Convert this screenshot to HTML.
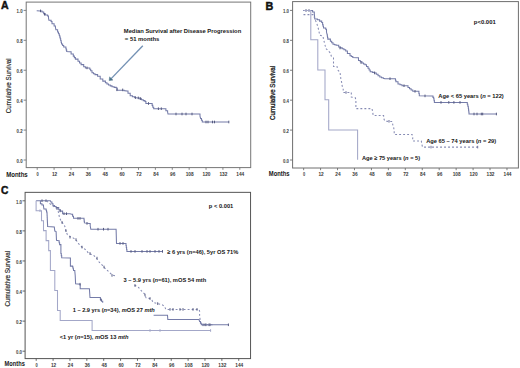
<!DOCTYPE html>
<html><head><meta charset="utf-8"><style>
html,body{margin:0;padding:0;background:#fff;width:520px;height:368px;overflow:hidden;font-family:"Liberation Sans", sans-serif;}
svg.fig{position:absolute;left:0;top:0;filter:blur(0.35px);}
svg.txt{position:absolute;left:0;top:0;font-family:"Liberation Sans", sans-serif;}
</style></head><body>
<svg width="520" height="368" viewBox="0 0 520 368" class="fig">
<rect width="520" height="368" fill="#fff"/>
<rect x="26.20" y="2.10" width="224.50" height="165.50" fill="none" stroke="#767676" stroke-width="1.0"/>
<line x1="23.60" y1="160.00" x2="26.20" y2="160.00" stroke="#767676" stroke-width="0.9"/>
<line x1="23.60" y1="130.08" x2="26.20" y2="130.08" stroke="#767676" stroke-width="0.9"/>
<line x1="23.60" y1="100.16" x2="26.20" y2="100.16" stroke="#767676" stroke-width="0.9"/>
<line x1="23.60" y1="70.24" x2="26.20" y2="70.24" stroke="#767676" stroke-width="0.9"/>
<line x1="23.60" y1="40.32" x2="26.20" y2="40.32" stroke="#767676" stroke-width="0.9"/>
<line x1="23.60" y1="10.40" x2="26.20" y2="10.40" stroke="#767676" stroke-width="0.9"/>
<line x1="37.20" y1="167.60" x2="37.20" y2="169.80" stroke="#767676" stroke-width="0.9"/>
<line x1="54.08" y1="167.60" x2="54.08" y2="169.80" stroke="#767676" stroke-width="0.9"/>
<line x1="70.97" y1="167.60" x2="70.97" y2="169.80" stroke="#767676" stroke-width="0.9"/>
<line x1="87.85" y1="167.60" x2="87.85" y2="169.80" stroke="#767676" stroke-width="0.9"/>
<line x1="104.74" y1="167.60" x2="104.74" y2="169.80" stroke="#767676" stroke-width="0.9"/>
<line x1="121.62" y1="167.60" x2="121.62" y2="169.80" stroke="#767676" stroke-width="0.9"/>
<line x1="138.50" y1="167.60" x2="138.50" y2="169.80" stroke="#767676" stroke-width="0.9"/>
<line x1="155.39" y1="167.60" x2="155.39" y2="169.80" stroke="#767676" stroke-width="0.9"/>
<line x1="172.27" y1="167.60" x2="172.27" y2="169.80" stroke="#767676" stroke-width="0.9"/>
<line x1="189.16" y1="167.60" x2="189.16" y2="169.80" stroke="#767676" stroke-width="0.9"/>
<line x1="206.04" y1="167.60" x2="206.04" y2="169.80" stroke="#767676" stroke-width="0.9"/>
<line x1="222.92" y1="167.60" x2="222.92" y2="169.80" stroke="#767676" stroke-width="0.9"/>
<line x1="239.81" y1="167.60" x2="239.81" y2="169.80" stroke="#767676" stroke-width="0.9"/>
<path d="M36.70 10.65 L40.20 10.90 H42.00 V12.00 H43.70 V13.70 H45.40 V15.00 H47.60 V15.90 H48.50 V18.00 L48.90 20.20 H51.10 V21.50 H52.00 V23.70 H54.10 V25.90 H55.40 V27.20 L55.90 29.80 H57.60 V32.00 H58.45 V33.75 H59.30 V35.50 H59.77 V37.13 H60.23 V38.77 H60.70 V40.40 H61.10 V42.15 H61.50 V43.90 H62.60 V45.45 H63.70 V47.00 H65.90 V48.70 H66.30 V50.10 H66.70 V51.50 L69.30 51.70 H71.10 V53.90 H73.30 V56.10 H74.35 V57.60 H75.40 V59.10 H78.00 V61.20 H79.55 V62.90 H81.10 V64.60 H83.70 V66.70 H85.40 V67.90 L88.90 67.90 H89.80 V69.30 H90.70 V70.70 H92.00 V72.80 H93.50 V73.70 H95.00 V74.60 H97.60 V76.30 H100.20 V78.90 H102.80 V81.10 H105.40 V82.80 H106.95 V83.90 H108.50 V85.00 H110.25 V85.85 H112.00 V86.70 H114.15 V87.35 H116.30 V88.00 H117.20 V90.30 L122.40 90.30 H124.15 V90.65 H125.90 V91.00 H128.00 V93.20 H130.20 V95.80 H132.40 V96.70 H134.60 V97.60 L138.00 98.00 H139.75 V98.85 H141.50 V99.70 H143.25 V100.60 H145.00 V101.50 H145.90 V103.50 L151.50 103.50 H152.15 V105.35 H152.80 V107.20 H153.70 V108.70 L164.10 108.70 H165.90 V110.70 H167.60 V112.00 L168.00 114.00 L198.80 114.00 H200.00 V116.10 L200.60 118.50 H201.45 V120.20 H202.30 V121.90 L228.80 122.00" fill="none" stroke="#747ba8" stroke-width="1.05"/>
<path d="M40.50 9.60 V12.20 M44.50 12.90 V15.50 M87.00 66.60 V69.20 M116.90 88.50 V91.10 M122.70 88.60 V91.20 M135.40 96.30 V98.90 M138.30 96.60 V99.20 M140.60 97.30 V99.90 M148.50 102.20 V104.80 M158.40 107.40 V110.00 M161.30 107.40 V110.00 M176.00 112.70 V115.30 M182.00 112.70 V115.30 M186.00 112.70 V115.30 M192.00 112.70 V115.30 M206.00 120.70 V123.30 M208.00 120.70 V123.30 M212.50 120.70 V123.30 M214.50 120.70 V123.30 M228.80 120.70 V123.30" stroke="#555a80" stroke-width="1.00" fill="none"/>
<line x1="142.8" y1="45.8" x2="111.2" y2="78.6" stroke="#7391b4" stroke-width="1.35"/>
<path d="M109.2 80.6 L109.6 76.9 L112.9 80.1 Z" fill="#4a7288" stroke="#4a7288" stroke-width="0.5"/>
<rect x="292.60" y="1.60" width="225.80" height="166.40" fill="none" stroke="#6e6e6e" stroke-width="1.0"/>
<line x1="290.00" y1="160.00" x2="292.60" y2="160.00" stroke="#6e6e6e" stroke-width="0.9"/>
<line x1="290.00" y1="130.08" x2="292.60" y2="130.08" stroke="#6e6e6e" stroke-width="0.9"/>
<line x1="290.00" y1="100.16" x2="292.60" y2="100.16" stroke="#6e6e6e" stroke-width="0.9"/>
<line x1="290.00" y1="70.24" x2="292.60" y2="70.24" stroke="#6e6e6e" stroke-width="0.9"/>
<line x1="290.00" y1="40.32" x2="292.60" y2="40.32" stroke="#6e6e6e" stroke-width="0.9"/>
<line x1="290.00" y1="10.40" x2="292.60" y2="10.40" stroke="#6e6e6e" stroke-width="0.9"/>
<line x1="303.65" y1="168.00" x2="303.65" y2="170.20" stroke="#6e6e6e" stroke-width="0.9"/>
<line x1="320.59" y1="168.00" x2="320.59" y2="170.20" stroke="#6e6e6e" stroke-width="0.9"/>
<line x1="337.54" y1="168.00" x2="337.54" y2="170.20" stroke="#6e6e6e" stroke-width="0.9"/>
<line x1="354.48" y1="168.00" x2="354.48" y2="170.20" stroke="#6e6e6e" stroke-width="0.9"/>
<line x1="371.43" y1="168.00" x2="371.43" y2="170.20" stroke="#6e6e6e" stroke-width="0.9"/>
<line x1="388.37" y1="168.00" x2="388.37" y2="170.20" stroke="#6e6e6e" stroke-width="0.9"/>
<line x1="405.31" y1="168.00" x2="405.31" y2="170.20" stroke="#6e6e6e" stroke-width="0.9"/>
<line x1="422.26" y1="168.00" x2="422.26" y2="170.20" stroke="#6e6e6e" stroke-width="0.9"/>
<line x1="439.20" y1="168.00" x2="439.20" y2="170.20" stroke="#6e6e6e" stroke-width="0.9"/>
<line x1="456.15" y1="168.00" x2="456.15" y2="170.20" stroke="#6e6e6e" stroke-width="0.9"/>
<line x1="473.09" y1="168.00" x2="473.09" y2="170.20" stroke="#6e6e6e" stroke-width="0.9"/>
<line x1="490.03" y1="168.00" x2="490.03" y2="170.20" stroke="#6e6e6e" stroke-width="0.9"/>
<line x1="506.98" y1="168.00" x2="506.98" y2="170.20" stroke="#6e6e6e" stroke-width="0.9"/>
<path d="M303.00 10.50 L310.00 10.50 H312.60 V12.00 H314.30 V14.10 L314.80 18.90 H317.40 V19.80 H319.60 V21.10 H321.70 V22.40 H322.60 V24.60 H323.05 V26.30 H323.50 V28.00 H325.70 V29.30 H326.50 V32.00 L327.00 34.30 H327.27 V35.90 H327.53 V37.50 H327.80 V39.10 H330.40 V41.30 H331.70 V42.80 H333.00 V44.30 H334.55 V44.75 H336.10 V45.20 H338.70 V47.00 H340.45 V47.85 H342.20 V48.70 H343.95 V49.80 H345.70 V50.90 H347.40 V53.50 H350.00 V55.70 H351.40 V56.55 H352.80 V57.40 L357.20 57.80 H358.50 V60.40 H360.25 V61.70 H362.00 V63.00 H363.50 V63.90 H365.00 V64.80 H366.50 V66.55 H368.00 V68.30 H369.10 V70.00 H370.20 V71.70 H372.40 V72.35 H374.60 V73.00 H376.30 V74.30 H378.05 V75.65 H379.80 V77.00 H381.55 V77.65 H383.30 V78.30 L385.00 78.70 L395.00 78.70 H395.45 V80.20 H395.90 V81.70 H398.00 V83.90 H400.00 V84.80 H402.00 V85.70 L405.90 85.70 H408.00 V87.40 H409.55 V88.70 H411.10 V90.00 H412.80 V91.30 L418.50 91.30 H418.90 V93.50 H419.30 V95.70 L432.20 95.90 H432.95 V97.35 H433.70 V98.80 H434.05 V100.60 H434.40 V102.40 L466.80 102.40 H467.30 V104.33 H467.80 V106.27 H468.30 V108.20 H468.53 V110.13 H468.77 V112.07 H469.00 V114.00 L496.40 114.00" fill="none" stroke="#747ba8" stroke-width="1.05"/>
<path d="M306.00 9.20 V11.80 M309.00 9.20 V11.80 M340.00 46.70 V49.30 M361.00 61.20 V63.80 M374.60 71.70 V74.30 M390.00 77.40 V80.00 M404.00 84.40 V87.00 M415.00 90.00 V92.60 M425.00 94.60 V97.20 M441.00 101.10 V103.70 M448.80 101.10 V103.70 M453.90 101.10 V103.70 M460.00 101.10 V103.70 M474.00 112.70 V115.30 M477.00 112.70 V115.30 M481.30 112.70 V115.30 M482.70 112.70 V115.30 M496.40 112.70 V115.30" stroke="#555a80" stroke-width="1.00" fill="none"/>
<path d="M303.50 14.60 L313.50 14.60 L315.20 20.20 L316.50 22.40 L317.40 25.40 L318.30 28.50 L319.10 32.00 L319.60 35.20 L323.00 36.10 L323.50 39.10 L325.20 45.70 L326.10 48.70 L328.30 50.90 L330.40 53.00 L331.30 56.10 L333.50 57.80 L333.50 66.50 L337.00 66.50 L337.80 70.00 L340.00 72.20 L340.40 75.70 L340.90 79.10 L341.70 82.60 L342.20 86.10 L343.20 88.50 L343.20 92.50 L351.30 92.50 L351.30 97.10 L355.30 97.70 L355.90 100.00 L355.90 108.60 L372.00 108.60 L372.60 111.50 L373.20 115.40 L383.60 115.60 L384.10 119.60 L385.30 121.30 L392.20 121.50 L392.80 124.80 L393.70 127.70 L394.20 131.10 L394.20 134.40 L412.10 134.40 L412.70 137.50 L412.70 141.00 L421.30 141.00 L421.90 144.40 L422.50 147.10 L477.70 147.10" fill="none" stroke="#858ab3" stroke-width="1.05" stroke-dasharray="1.9 2.1"/>
<path d="M346.00 91.20 V93.80 M389.00 120.00 V122.60 M431.00 145.80 V148.40 M477.70 145.80 V148.40" stroke="#6a6f98" stroke-width="1.00" fill="none"/>
<path d="M303.50 10.50 H310.80 V39.80 H317.80 V70.00 H325.00 V99.80 H328.70 V130.00 H357.60 V159.70" fill="none" stroke="#a3a7c8" stroke-width="1.05"/>
<rect x="25.10" y="192.35" width="225.45" height="166.25" fill="none" stroke="#555555" stroke-width="1.0"/>
<line x1="22.50" y1="351.20" x2="25.10" y2="351.20" stroke="#555555" stroke-width="0.9"/>
<line x1="22.50" y1="321.12" x2="25.10" y2="321.12" stroke="#555555" stroke-width="0.9"/>
<line x1="22.50" y1="291.04" x2="25.10" y2="291.04" stroke="#555555" stroke-width="0.9"/>
<line x1="22.50" y1="260.96" x2="25.10" y2="260.96" stroke="#555555" stroke-width="0.9"/>
<line x1="22.50" y1="230.88" x2="25.10" y2="230.88" stroke="#555555" stroke-width="0.9"/>
<line x1="22.50" y1="200.80" x2="25.10" y2="200.80" stroke="#555555" stroke-width="0.9"/>
<line x1="36.20" y1="358.60" x2="36.20" y2="360.80" stroke="#555555" stroke-width="0.9"/>
<line x1="53.08" y1="358.60" x2="53.08" y2="360.80" stroke="#555555" stroke-width="0.9"/>
<line x1="69.96" y1="358.60" x2="69.96" y2="360.80" stroke="#555555" stroke-width="0.9"/>
<line x1="86.83" y1="358.60" x2="86.83" y2="360.80" stroke="#555555" stroke-width="0.9"/>
<line x1="103.71" y1="358.60" x2="103.71" y2="360.80" stroke="#555555" stroke-width="0.9"/>
<line x1="120.59" y1="358.60" x2="120.59" y2="360.80" stroke="#555555" stroke-width="0.9"/>
<line x1="137.47" y1="358.60" x2="137.47" y2="360.80" stroke="#555555" stroke-width="0.9"/>
<line x1="154.35" y1="358.60" x2="154.35" y2="360.80" stroke="#555555" stroke-width="0.9"/>
<line x1="171.22" y1="358.60" x2="171.22" y2="360.80" stroke="#555555" stroke-width="0.9"/>
<line x1="188.10" y1="358.60" x2="188.10" y2="360.80" stroke="#555555" stroke-width="0.9"/>
<line x1="204.98" y1="358.60" x2="204.98" y2="360.80" stroke="#555555" stroke-width="0.9"/>
<line x1="221.86" y1="358.60" x2="221.86" y2="360.80" stroke="#555555" stroke-width="0.9"/>
<line x1="238.74" y1="358.60" x2="238.74" y2="360.80" stroke="#555555" stroke-width="0.9"/>
<path d="M36.10 200.70 L50.40 200.70 L50.90 202.00 H51.95 V203.70 H53.00 V205.40 H54.55 V206.50 H56.10 V207.60 H58.70 V209.80 H60.40 V211.10 H62.60 V213.70 L70.00 213.70 L71.70 214.20 H72.60 V216.25 H73.50 V218.30 L83.80 218.30 H84.00 V219.83 H84.20 V221.37 H84.40 V222.90 L89.00 223.50 H90.20 V225.80 L90.80 229.20 L116.10 229.20 L116.50 243.40 L125.70 243.40 H126.00 V245.40 H126.30 V247.40 H126.60 V249.40 H126.90 V251.40 L162.50 251.40" fill="none" stroke="#747ba8" stroke-width="1.05"/>
<path d="M42.00 199.40 V202.00 M46.00 199.40 V202.00 M57.00 207.20 V209.80 M60.00 209.60 V212.20 M64.00 212.40 V215.00 M66.50 212.40 V215.00 M78.00 217.10 V219.70 M80.00 217.10 V219.70 M87.00 222.10 V224.70 M98.00 227.90 V230.50 M103.50 227.90 V230.50 M108.00 227.90 V230.50 M120.00 242.10 V244.70 M123.00 242.10 V244.70 M131.00 250.10 V252.70 M135.00 250.10 V252.70 M142.00 250.10 V252.70 M147.00 250.10 V252.70 M150.00 250.10 V252.70 M155.00 250.10 V252.70 M159.00 250.10 V252.70 M162.50 250.10 V252.70" stroke="#555a80" stroke-width="1.00" fill="none"/>
<path d="M46.50 200.70 L48.70 202.80 L52.20 205.40 L55.20 207.60 L57.80 209.30 L59.60 218.00 L61.70 222.00 L62.20 222.40 L64.80 226.30 L65.70 230.70 L67.40 234.60 L70.90 237.20 L73.50 238.10 L75.80 239.60 L78.50 243.70 L81.90 247.10 L86.00 250.00 L88.80 253.50 L93.50 255.20 L96.30 258.10 L99.20 262.10 L102.70 265.60 L105.60 269.00 L109.00 271.90 L111.90 274.80 L116.70 276.30" fill="none" stroke="#858ab3" stroke-width="1.05" stroke-dasharray="1.9 2.1"/>
<path d="M134.60 285.20 L138.10 286.90 L141.00 290.40 L144.40 293.80 L146.10 297.90 L149.60 298.50 L151.90 300.20 L153.10 302.50 L157.70 303.60 L162.30 304.80 L164.60 306.50 L165.80 309.40 L199.00 309.40 L199.60 311.10 L199.60 316.30 L200.20 319.80 L200.80 322.70 L201.90 324.80 L213.40 324.80" fill="none" stroke="#858ab3" stroke-width="1.05" stroke-dasharray="1.9 2.1"/>
<path d="M62.00 221.10 V223.70 M66.00 229.40 V232.00 M70.00 235.90 V238.50 M76.00 238.30 V240.90 M82.00 245.80 V248.40 M90.00 252.20 V254.80 M97.00 256.80 V259.40 M104.00 265.70 V268.30 M112.00 274.10 V276.70 M135.00 284.20 V286.80 M145.00 293.70 V296.30 M150.00 297.20 V299.80 M157.70 302.30 V304.90 M170.00 308.10 V310.70 M173.00 308.10 V310.70 M180.00 308.10 V310.70 M183.00 308.10 V310.70 M193.00 308.10 V310.70 M197.00 308.10 V310.70 M203.00 323.50 V326.10 M206.00 323.50 V326.10 M209.00 323.50 V326.10" stroke="#555a80" stroke-width="1.00" fill="none"/>
<path d="M40.40 200.70 L40.40 203.70 H41.95 V205.00 H43.50 V206.30 L43.90 208.90 H46.10 V210.20 H46.55 V211.95 H47.00 V213.70 H47.09 V215.53 H47.17 V217.36 H47.26 V219.19 H47.34 V221.01 H47.43 V222.84 H47.51 V224.67 H47.60 V226.50 L54.30 227.00 L54.80 231.10 L56.10 231.60 L56.50 240.30 L58.70 240.70 H59.15 V242.65 H59.60 V244.60 H60.90 V245.90 L60.90 253.50 H61.30 V255.65 H61.70 V257.80 L70.40 258.00 L70.40 266.10 H72.60 V267.00 H73.05 V268.70 H73.50 V270.40 H74.80 V271.30 L75.20 275.20 L75.60 283.70 L80.20 284.20 L80.20 288.80 L89.40 288.80 L90.00 297.50 L99.20 297.50 H100.40 V299.80 H101.55 V301.25 H102.70 V302.70" fill="none" stroke="#747ba8" stroke-width="1.05"/>
<path d="M153.60 315.20 L167.50 315.20 L167.80 319.40 L199.00 319.50 L199.60 321.50 H200.45 V323.15 H201.30 V324.80 L228.40 324.80" fill="none" stroke="#747ba8" stroke-width="1.05"/>
<path d="M80.00 282.90 V285.50 M101.00 298.50 V301.10 M205.00 323.50 V326.10 M210.00 323.50 V326.10 M228.40 323.50 V326.10" stroke="#555a80" stroke-width="1.00" fill="none"/>
<path d="M36.10 200.70 H36.10 V210.70 H41.50 V220.70 H43.50 V230.60 H46.10 V240.60 H48.70 V250.60 H50.40 V270.50 H54.80 V290.50 H57.50 V310.40 H60.20 V320.40 H92.10 V330.50 H210.60 V330.50" fill="none" stroke="#a3a7c8" stroke-width="1.05"/>
<path d="M40.00 209.40 V212.00 M210.60 329.20 V331.80 M150.00 329.20 V331.80 M160.00 329.20 V331.80" stroke="#a3a7c8" stroke-width="1.00" fill="none"/>
</svg>
<svg width="520" height="368" viewBox="0 0 520 368" class="txt">
<text x="1.10" y="9.10" font-size="10.60" font-weight="bold" fill="#111" text-anchor="start" textLength="7.60" lengthAdjust="spacingAndGlyphs" stroke="#111" stroke-width="0.45">A</text>
<text x="22.60" y="162.80" font-size="4.70" font-weight="bold" fill="#3a3a3a" text-anchor="end" textLength="6.00" lengthAdjust="spacingAndGlyphs">0.0</text>
<text x="22.60" y="132.88" font-size="4.70" font-weight="bold" fill="#3a3a3a" text-anchor="end" textLength="6.00" lengthAdjust="spacingAndGlyphs">0.2</text>
<text x="22.60" y="102.96" font-size="4.70" font-weight="bold" fill="#3a3a3a" text-anchor="end" textLength="6.00" lengthAdjust="spacingAndGlyphs">0.4</text>
<text x="22.60" y="73.04" font-size="4.70" font-weight="bold" fill="#3a3a3a" text-anchor="end" textLength="6.00" lengthAdjust="spacingAndGlyphs">0.6</text>
<text x="22.60" y="43.12" font-size="4.70" font-weight="bold" fill="#3a3a3a" text-anchor="end" textLength="6.00" lengthAdjust="spacingAndGlyphs">0.8</text>
<text x="22.60" y="13.20" font-size="4.70" font-weight="bold" fill="#3a3a3a" text-anchor="end" textLength="6.00" lengthAdjust="spacingAndGlyphs">1.0</text>
<text x="37.70" y="175.50" font-size="4.70" font-weight="bold" fill="#3a3a3a" text-anchor="middle" textLength="2.20" lengthAdjust="spacingAndGlyphs">0</text>
<text x="54.58" y="175.50" font-size="4.70" font-weight="bold" fill="#3a3a3a" text-anchor="middle" textLength="5.30" lengthAdjust="spacingAndGlyphs">12</text>
<text x="71.47" y="175.50" font-size="4.70" font-weight="bold" fill="#3a3a3a" text-anchor="middle" textLength="5.30" lengthAdjust="spacingAndGlyphs">24</text>
<text x="88.35" y="175.50" font-size="4.70" font-weight="bold" fill="#3a3a3a" text-anchor="middle" textLength="5.30" lengthAdjust="spacingAndGlyphs">36</text>
<text x="105.24" y="175.50" font-size="4.70" font-weight="bold" fill="#3a3a3a" text-anchor="middle" textLength="5.30" lengthAdjust="spacingAndGlyphs">48</text>
<text x="122.12" y="175.50" font-size="4.70" font-weight="bold" fill="#3a3a3a" text-anchor="middle" textLength="5.30" lengthAdjust="spacingAndGlyphs">60</text>
<text x="139.00" y="175.50" font-size="4.70" font-weight="bold" fill="#3a3a3a" text-anchor="middle" textLength="5.30" lengthAdjust="spacingAndGlyphs">72</text>
<text x="155.89" y="175.50" font-size="4.70" font-weight="bold" fill="#3a3a3a" text-anchor="middle" textLength="5.30" lengthAdjust="spacingAndGlyphs">84</text>
<text x="172.77" y="175.50" font-size="4.70" font-weight="bold" fill="#3a3a3a" text-anchor="middle" textLength="5.30" lengthAdjust="spacingAndGlyphs">96</text>
<text x="189.66" y="175.50" font-size="4.70" font-weight="bold" fill="#3a3a3a" text-anchor="middle" textLength="8.00" lengthAdjust="spacingAndGlyphs">108</text>
<text x="206.54" y="175.50" font-size="4.70" font-weight="bold" fill="#3a3a3a" text-anchor="middle" textLength="8.00" lengthAdjust="spacingAndGlyphs">120</text>
<text x="223.42" y="175.50" font-size="4.70" font-weight="bold" fill="#3a3a3a" text-anchor="middle" textLength="8.00" lengthAdjust="spacingAndGlyphs">132</text>
<text x="240.31" y="175.50" font-size="4.70" font-weight="bold" fill="#3a3a3a" text-anchor="middle" textLength="8.00" lengthAdjust="spacingAndGlyphs">144</text>
<text x="0" y="0" font-size="6.3" fill="#151515" stroke="#1a1a1a" stroke-width="0.15" text-anchor="middle" textLength="55.00" lengthAdjust="spacingAndGlyphs" transform="translate(10.80 85.80) rotate(-90)">Cumulative Survival</text>
<text x="6.20" y="176.60" font-size="6.40" font-weight="bold" fill="#151515" text-anchor="start" textLength="21.50" lengthAdjust="spacingAndGlyphs">Months</text>
<text x="123.80" y="33.30" font-size="6.20" font-weight="bold" fill="#151515" text-anchor="start" textLength="117.40" lengthAdjust="spacingAndGlyphs">Median Survival after Disease Progression</text>
<text x="124.80" y="40.80" font-size="6.20" font-weight="bold" fill="#151515" text-anchor="start" textLength="34.60" lengthAdjust="spacingAndGlyphs">= 51 months</text>
<text x="265.50" y="10.00" font-size="10.60" font-weight="bold" fill="#111" text-anchor="start" textLength="7.80" lengthAdjust="spacingAndGlyphs" stroke="#111" stroke-width="0.45">B</text>
<text x="289.00" y="162.80" font-size="4.70" font-weight="bold" fill="#3a3a3a" text-anchor="end" textLength="6.00" lengthAdjust="spacingAndGlyphs">0.0</text>
<text x="289.00" y="132.88" font-size="4.70" font-weight="bold" fill="#3a3a3a" text-anchor="end" textLength="6.00" lengthAdjust="spacingAndGlyphs">0.2</text>
<text x="289.00" y="102.96" font-size="4.70" font-weight="bold" fill="#3a3a3a" text-anchor="end" textLength="6.00" lengthAdjust="spacingAndGlyphs">0.4</text>
<text x="289.00" y="73.04" font-size="4.70" font-weight="bold" fill="#3a3a3a" text-anchor="end" textLength="6.00" lengthAdjust="spacingAndGlyphs">0.6</text>
<text x="289.00" y="43.12" font-size="4.70" font-weight="bold" fill="#3a3a3a" text-anchor="end" textLength="6.00" lengthAdjust="spacingAndGlyphs">0.8</text>
<text x="289.00" y="13.20" font-size="4.70" font-weight="bold" fill="#3a3a3a" text-anchor="end" textLength="6.00" lengthAdjust="spacingAndGlyphs">1.0</text>
<text x="304.15" y="175.50" font-size="4.70" font-weight="bold" fill="#3a3a3a" text-anchor="middle" textLength="2.20" lengthAdjust="spacingAndGlyphs">0</text>
<text x="321.09" y="175.50" font-size="4.70" font-weight="bold" fill="#3a3a3a" text-anchor="middle" textLength="5.30" lengthAdjust="spacingAndGlyphs">12</text>
<text x="338.04" y="175.50" font-size="4.70" font-weight="bold" fill="#3a3a3a" text-anchor="middle" textLength="5.30" lengthAdjust="spacingAndGlyphs">24</text>
<text x="354.98" y="175.50" font-size="4.70" font-weight="bold" fill="#3a3a3a" text-anchor="middle" textLength="5.30" lengthAdjust="spacingAndGlyphs">36</text>
<text x="371.93" y="175.50" font-size="4.70" font-weight="bold" fill="#3a3a3a" text-anchor="middle" textLength="5.30" lengthAdjust="spacingAndGlyphs">48</text>
<text x="388.87" y="175.50" font-size="4.70" font-weight="bold" fill="#3a3a3a" text-anchor="middle" textLength="5.30" lengthAdjust="spacingAndGlyphs">60</text>
<text x="405.81" y="175.50" font-size="4.70" font-weight="bold" fill="#3a3a3a" text-anchor="middle" textLength="5.30" lengthAdjust="spacingAndGlyphs">72</text>
<text x="422.76" y="175.50" font-size="4.70" font-weight="bold" fill="#3a3a3a" text-anchor="middle" textLength="5.30" lengthAdjust="spacingAndGlyphs">84</text>
<text x="439.70" y="175.50" font-size="4.70" font-weight="bold" fill="#3a3a3a" text-anchor="middle" textLength="5.30" lengthAdjust="spacingAndGlyphs">96</text>
<text x="456.65" y="175.50" font-size="4.70" font-weight="bold" fill="#3a3a3a" text-anchor="middle" textLength="8.00" lengthAdjust="spacingAndGlyphs">108</text>
<text x="473.59" y="175.50" font-size="4.70" font-weight="bold" fill="#3a3a3a" text-anchor="middle" textLength="8.00" lengthAdjust="spacingAndGlyphs">120</text>
<text x="490.53" y="175.50" font-size="4.70" font-weight="bold" fill="#3a3a3a" text-anchor="middle" textLength="8.00" lengthAdjust="spacingAndGlyphs">132</text>
<text x="507.48" y="175.50" font-size="4.70" font-weight="bold" fill="#3a3a3a" text-anchor="middle" textLength="8.00" lengthAdjust="spacingAndGlyphs">144</text>
<text x="0" y="0" font-size="6.3" fill="#151515" stroke="#1a1a1a" stroke-width="0.30" text-anchor="middle" textLength="54.00" lengthAdjust="spacingAndGlyphs" transform="translate(275.00 92.90) rotate(-90)">Cumulative Survival</text>
<text x="268.80" y="176.00" font-size="6.40" font-weight="bold" fill="#151515" text-anchor="start" textLength="20.70" lengthAdjust="spacingAndGlyphs">Months</text>
<text x="473.80" y="23.80" font-size="5.60" font-weight="bold" fill="#151515" text-anchor="start" textLength="22.00" lengthAdjust="spacingAndGlyphs">p&lt;0.001</text>
<text x="438.30" y="97.80" font-size="6.20" font-weight="bold" fill="#151515" text-anchor="start" textLength="65.50" lengthAdjust="spacingAndGlyphs">Age &lt; 65 years (<tspan font-style="italic">n</tspan> = 122)</text>
<text x="426.20" y="142.60" font-size="6.20" font-weight="bold" fill="#151515" text-anchor="start" textLength="70.00" lengthAdjust="spacingAndGlyphs">Age 65 – 74 years (<tspan font-style="italic">n</tspan> = 29)</text>
<text x="361.90" y="159.70" font-size="6.20" font-weight="bold" fill="#151515" text-anchor="start" textLength="58.20" lengthAdjust="spacingAndGlyphs">Age ≥ 75 years (<tspan font-style="italic">n</tspan> = 5)</text>
<text x="1.10" y="194.20" font-size="10.60" font-weight="bold" fill="#111" text-anchor="start" textLength="7.40" lengthAdjust="spacingAndGlyphs" stroke="#111" stroke-width="0.45">C</text>
<text x="22.00" y="354.00" font-size="4.70" font-weight="bold" fill="#3a3a3a" text-anchor="end" textLength="6.00" lengthAdjust="spacingAndGlyphs">0.0</text>
<text x="22.00" y="323.92" font-size="4.70" font-weight="bold" fill="#3a3a3a" text-anchor="end" textLength="6.00" lengthAdjust="spacingAndGlyphs">0.2</text>
<text x="22.00" y="293.84" font-size="4.70" font-weight="bold" fill="#3a3a3a" text-anchor="end" textLength="6.00" lengthAdjust="spacingAndGlyphs">0.4</text>
<text x="22.00" y="263.76" font-size="4.70" font-weight="bold" fill="#3a3a3a" text-anchor="end" textLength="6.00" lengthAdjust="spacingAndGlyphs">0.6</text>
<text x="22.00" y="233.68" font-size="4.70" font-weight="bold" fill="#3a3a3a" text-anchor="end" textLength="6.00" lengthAdjust="spacingAndGlyphs">0.8</text>
<text x="22.00" y="203.60" font-size="4.70" font-weight="bold" fill="#3a3a3a" text-anchor="end" textLength="6.00" lengthAdjust="spacingAndGlyphs">1.0</text>
<text x="36.70" y="366.70" font-size="4.70" font-weight="bold" fill="#3a3a3a" text-anchor="middle" textLength="2.20" lengthAdjust="spacingAndGlyphs">0</text>
<text x="53.58" y="366.70" font-size="4.70" font-weight="bold" fill="#3a3a3a" text-anchor="middle" textLength="5.30" lengthAdjust="spacingAndGlyphs">12</text>
<text x="70.46" y="366.70" font-size="4.70" font-weight="bold" fill="#3a3a3a" text-anchor="middle" textLength="5.30" lengthAdjust="spacingAndGlyphs">24</text>
<text x="87.33" y="366.70" font-size="4.70" font-weight="bold" fill="#3a3a3a" text-anchor="middle" textLength="5.30" lengthAdjust="spacingAndGlyphs">36</text>
<text x="104.21" y="366.70" font-size="4.70" font-weight="bold" fill="#3a3a3a" text-anchor="middle" textLength="5.30" lengthAdjust="spacingAndGlyphs">48</text>
<text x="121.09" y="366.70" font-size="4.70" font-weight="bold" fill="#3a3a3a" text-anchor="middle" textLength="5.30" lengthAdjust="spacingAndGlyphs">60</text>
<text x="137.97" y="366.70" font-size="4.70" font-weight="bold" fill="#3a3a3a" text-anchor="middle" textLength="5.30" lengthAdjust="spacingAndGlyphs">72</text>
<text x="154.85" y="366.70" font-size="4.70" font-weight="bold" fill="#3a3a3a" text-anchor="middle" textLength="5.30" lengthAdjust="spacingAndGlyphs">84</text>
<text x="171.72" y="366.70" font-size="4.70" font-weight="bold" fill="#3a3a3a" text-anchor="middle" textLength="5.30" lengthAdjust="spacingAndGlyphs">96</text>
<text x="188.60" y="366.70" font-size="4.70" font-weight="bold" fill="#3a3a3a" text-anchor="middle" textLength="8.00" lengthAdjust="spacingAndGlyphs">108</text>
<text x="205.48" y="366.70" font-size="4.70" font-weight="bold" fill="#3a3a3a" text-anchor="middle" textLength="8.00" lengthAdjust="spacingAndGlyphs">120</text>
<text x="222.36" y="366.70" font-size="4.70" font-weight="bold" fill="#3a3a3a" text-anchor="middle" textLength="8.00" lengthAdjust="spacingAndGlyphs">132</text>
<text x="239.24" y="366.70" font-size="4.70" font-weight="bold" fill="#3a3a3a" text-anchor="middle" textLength="8.00" lengthAdjust="spacingAndGlyphs">144</text>
<text x="0" y="0" font-size="6.3" fill="#151515" stroke="#1a1a1a" stroke-width="0.15" text-anchor="middle" textLength="55.70" lengthAdjust="spacingAndGlyphs" transform="translate(10.40 278.75) rotate(-90)">Cumulative Survival</text>
<text x="4.60" y="366.40" font-size="6.40" font-weight="bold" fill="#151515" text-anchor="start" textLength="20.20" lengthAdjust="spacingAndGlyphs">Months</text>
<text x="208.80" y="207.80" font-size="5.40" font-weight="bold" fill="#151515" text-anchor="start" textLength="24.50" lengthAdjust="spacingAndGlyphs">p &lt; 0.001</text>
<text x="167.20" y="254.10" font-size="6.20" font-weight="bold" fill="#151515" text-anchor="start" textLength="71.00" lengthAdjust="spacingAndGlyphs">≥ 6 yrs (n=46), 5yr OS 71%</text>
<text x="123.50" y="281.70" font-size="6.20" font-weight="bold" fill="#151515" text-anchor="start" textLength="82.70" lengthAdjust="spacingAndGlyphs">3 – 5.9 yrs (<tspan font-style="italic">n</tspan>=61), mOS 54 mth</text>
<text x="72.70" y="312.00" font-size="6.20" font-weight="bold" fill="#151515" text-anchor="start" textLength="82.10" lengthAdjust="spacingAndGlyphs">1 – 2.9 yrs (<tspan font-style="italic">n</tspan>=34), <tspan font-style="italic">m</tspan>OS 27 <tspan font-style="italic">mth</tspan></text>
<text x="59.70" y="338.90" font-size="6.20" font-weight="bold" fill="#151515" text-anchor="start" textLength="68.70" lengthAdjust="spacingAndGlyphs">&lt;1 yr (<tspan font-style="italic">n</tspan>=15), <tspan font-style="italic">m</tspan>OS 13 <tspan font-style="italic">mth</tspan></text>
</svg>
</body></html>
